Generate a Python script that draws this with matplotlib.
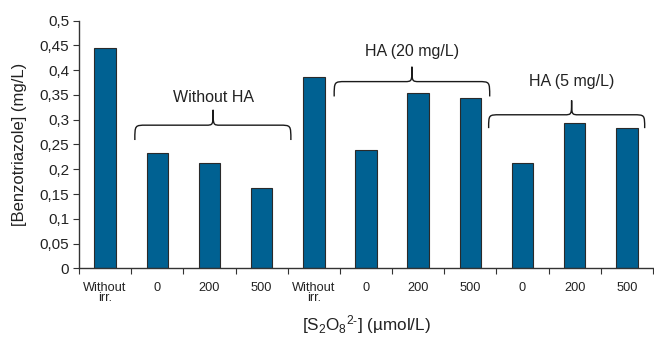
import matplotlib
matplotlib.use("Agg")
import matplotlib.pyplot as plt
from matplotlib.path import Path
from matplotlib.patches import PathPatch
import numpy as np

plt.rcParams['font.family'] = ['Liberation Sans', 'DejaVu Sans']
plt.rcParams['mathtext.default'] = 'regular'

categories = ["Without\nirr.", "0", "200", "500", "Without\nirr.", "0", "200", "500", "0", "200", "500"]
values = [0.445, 0.233, 0.213, 0.163, 0.387, 0.239, 0.353, 0.343, 0.213, 0.293, 0.284]
y_ticks = [0, 0.05, 0.1, 0.15, 0.2, 0.25, 0.3, 0.35, 0.4, 0.45, 0.5]
y_tick_labels = ["0", "0,05", "0,1", "0,15", "0,2", "0,25", "0,3", "0,35", "0,4", "0,45", "0,5"]
group_labels = ["Without HA", "HA (20 mg/L)", "HA (5 mg/L)"]
# brace: left x, right x, tip x, end y, bar y, tip y, label y
braces = [
    (0.57, 3.56, 2.07, 0.259, 0.289, 0.320, 0.345),
    (4.39, 7.37, 5.88, 0.347, 0.377, 0.407, 0.437),
    (7.35, 10.34, 8.94, 0.283, 0.310, 0.339, 0.378),
]

fig = plt.figure(figsize=(6.54, 3.37), dpi=100)
ax = fig.add_axes([0.1208, 0.2039, 0.8777, 0.7347])

x = np.arange(len(values))
ax.bar(x, values, width=0.41, color="#006192", edgecolor="#2a2a2a", linewidth=0.8, zorder=2)

ax.set_xlim(-0.5, len(values) - 0.5)
ax.set_ylim(0, 0.5)
ax.set_yticks(y_ticks)
ax.set_yticklabels(y_tick_labels, fontsize=11, color="#222222")

ax.set_xticks(np.arange(len(values) + 1) - 0.5)
ax.set_xticklabels([])
ax.set_xticks(x, minor=True)
ax.set_xticklabels(categories, minor=True, fontsize=9.2, color="#222222", linespacing=0.8)
ax.tick_params(axis='x', which='minor', length=0, pad=10)
ax.tick_params(axis='x', which='major', length=4, direction='out', color="#333333")
ax.tick_params(axis='y', length=4, direction='out', color="#333333", pad=3)

for s in ['top', 'right']:
    ax.spines[s].set_visible(False)
for s in ['left', 'bottom']:
    ax.spines[s].set_color("#333333")
    ax.spines[s].set_linewidth(1.0)

ax.set_ylabel("[Benzotriazole] (mg/L)", fontsize=12, color="#222222", va='center')
ax.yaxis.set_label_coords(-0.104, 0.5)
ax.set_xlabel("[S$_2$O$_8$$^{2\u2011}$] (\u00b5mol/L)", fontsize=12.3, color="#222222", va='center')
ax.xaxis.set_label_coords(0.5, -0.228)

for (xl, xr, xt, ye, yb, yt, ly), lab in zip(braces, group_labels):
    rx = 0.22
    rt = 0.14
    verts = [
        (xl, ye),
        (xl, yb), (xl, yb), (xl + rx, yb),
        (xt - rt, yb),
        (xt, yb), (xt, yb), (xt, yt),
        (xt, yb), (xt, yb), (xt + rt, yb),
        (xr - rx, yb),
        (xr, yb), (xr, yb), (xr, ye),
    ]
    codes = [Path.MOVETO,
             Path.CURVE4, Path.CURVE4, Path.CURVE4,
             Path.LINETO,
             Path.CURVE4, Path.CURVE4, Path.CURVE4,
             Path.CURVE4, Path.CURVE4, Path.CURVE4,
             Path.LINETO,
             Path.CURVE4, Path.CURVE4, Path.CURVE4]
    ax.add_patch(PathPatch(Path(verts, codes), fill=False, edgecolor="#1a1a1a", linewidth=1.0, clip_on=False, zorder=3))
    ax.text(xt, ly, lab, ha='center', va='center', fontsize=11.5, color="#222222")

fig.savefig("out.png", dpi=100)
